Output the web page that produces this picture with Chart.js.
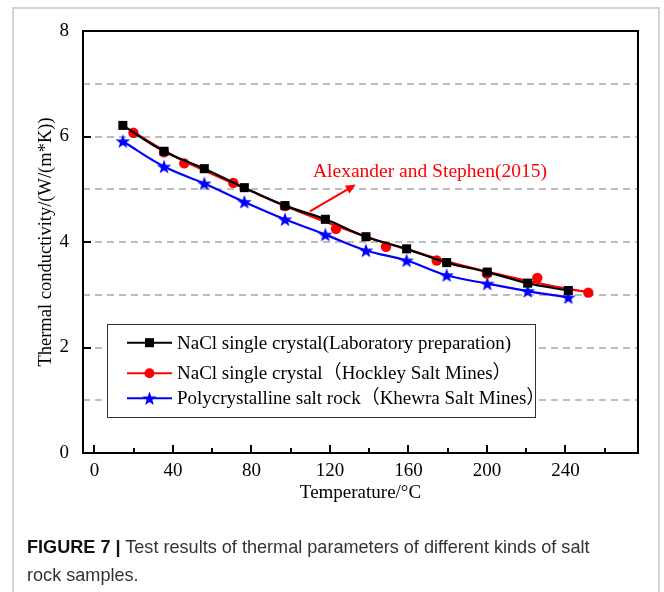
<!DOCTYPE html>
<html>
<head>
<meta charset="utf-8">
<script src="https://cdn.jsdelivr.net/npm/chart.js@4"></script>
<style>
  html, body { margin: 0; padding: 0; background: #fff; }
  #wrap { position: relative; width: 664px; height: 592px; overflow: hidden; background: #fff; }
  #frame { position: absolute; left: 12px; top: 7px; width: 648px; height: 600px; border: 2px solid #d4d4d4; box-sizing: border-box; }
  #c { position: absolute; left: 0; top: 0; }
  #caption { position: absolute; left: 27px; top: 533px; width: 620px; font-family: 'Liberation Sans', Arial, sans-serif; font-size: 18.1px; line-height: 28px; color: #333; }
  #caption b { color: #111; }
</style>
</head>
<body>
<div id="wrap">
  <div id="frame"></div>
  <canvas id="c" width="664" height="592"></canvas>
  <div id="caption"><b>FIGURE 7 |</b> Test results of thermal parameters of different kinds of salt<br>rock samples.</div>
</div>
<script>
// ---- data ----
const seriesNames = [
  'NaCl single crystal(Laboratory preparation)',
  'NaCl single crystal（Hockley Salt Mines）',
  'Polycrystalline salt rock（Khewra Salt Mines）'
];
const labX  = [14.5, 35.5, 56.0, 76.4, 97.1, 117.7, 138.4, 159.1, 179.5, 200.2, 220.8, 241.5];
const labY  = [6.21, 5.72, 5.39, 5.03, 4.69, 4.43, 4.10, 3.87, 3.61, 3.43, 3.22, 3.08];
const hockX = [19.9, 35.5, 45.8, 70.8, 97.1, 123.1, 148.6, 174.4, 200.0, 225.7, 251.7];
const hockY = [6.07, 5.70, 5.49, 5.12, 4.68, 4.25, 3.91, 3.65, 3.40, 3.32, 3.04];
const hockCurveX = [20, 40, 60, 80, 100, 120, 140, 160, 180, 200, 220, 240, 252];
const hockCurveY = [6.08, 5.64, 5.29, 4.96, 4.64, 4.35, 4.08, 3.85, 3.63, 3.44, 3.27, 3.12, 3.05];
const khewX = [14.5, 35.5, 56.0, 76.4, 97.1, 117.7, 138.4, 159.1, 179.5, 200.2, 220.8, 241.5];
const khewY = [5.91, 5.43, 5.11, 4.76, 4.43, 4.14, 3.84, 3.65, 3.37, 3.21, 3.07, 2.95];
const xMajorTicks = [0, 40, 80, 120, 160, 200, 240];
const xMinorTicks = [20, 60, 100, 140, 180, 220, 260];
const yMajorTicks = [0, 2, 4, 6, 8];
const annotationText = 'Alexander and Stephen(2015)';
const annotationAt = { x: 111.4, y: 5.32 };
const arrowFrom = { x: 109.8, y: 4.58 };
const arrowTo = { x: 133.2, y: 5.09 };

const pts = (xs, ys) => xs.map((x, i) => ({ x: x, y: ys[i] }));
const SERIF = "'Liberation Serif', 'Times New Roman', 'Noto Sans CJK SC', serif";

function drawStar(ctx, cx, cy, R, r) {
  ctx.beginPath();
  for (let i = 0; i < 10; i++) {
    const rad = i % 2 === 0 ? R : r;
    const a = -Math.PI / 2 + i * Math.PI / 5;
    const px = cx + rad * Math.cos(a), py = cy + rad * Math.sin(a);
    if (i === 0) ctx.moveTo(px, py); else ctx.lineTo(px, py);
  }
  ctx.closePath();
  ctx.fill();
}
const starImg = document.createElement('canvas');
starImg.width = 18; starImg.height = 18;
(function () { const g = starImg.getContext('2d'); g.fillStyle = '#0000ff'; drawStar(g, 9, 9.7, 7.6, 3.1); })();

const framePlugin = {
  id: 'framePlugin',
  afterDraw(chart) {
    const { ctx, chartArea: a, scales: { x, y } } = chart;
    ctx.save();
    // frame
    ctx.strokeStyle = '#000'; ctx.lineWidth = 2;
    ctx.strokeRect(a.left, a.top, a.right - a.left, a.bottom - a.top);
    // inward ticks
    ctx.lineWidth = 2;
    ctx.beginPath();
    xMajorTicks.forEach(v => { const px = Math.round(x.getPixelForValue(v)); ctx.moveTo(px, a.bottom); ctx.lineTo(px, a.bottom - 8); });
    xMinorTicks.forEach(v => { const px = Math.round(x.getPixelForValue(v)); ctx.moveTo(px, a.bottom); ctx.lineTo(px, a.bottom - 5); });
    yMajorTicks.forEach(v => { const py = Math.round(y.getPixelForValue(v)); ctx.moveTo(a.left, py); ctx.lineTo(a.left + 8, py); });
    ctx.stroke();

    // legend
    const L = 107, T = 324, R = 535, B = 417;
    ctx.fillStyle = '#fff';
    ctx.fillRect(L, T, R - L, B - T);
    ctx.strokeStyle = '#333'; ctx.lineWidth = 1;
    ctx.strokeRect(L + 0.5, T + 0.5, R - L, B - T);
    const rows = [342.7, 373.3, 398.3];
    const cols = ['#000000', '#ff0000', '#0000ff'];
    ctx.font = '19px ' + SERIF;
    ctx.textBaseline = 'middle';
    ctx.textAlign = 'left';
    rows.forEach((ry, i) => {
      ctx.strokeStyle = cols[i]; ctx.lineWidth = 2;
      ctx.beginPath(); ctx.moveTo(127, ry); ctx.lineTo(172, ry); ctx.stroke();
      ctx.fillStyle = cols[i];
      if (i === 0) ctx.fillRect(149.5 - 4.5, ry - 4.5, 9, 9);
      else if (i === 1) { ctx.beginPath(); ctx.arc(149.5, ry, 5, 0, Math.PI * 2); ctx.fill(); }
      else drawStar(ctx, 149.5, ry + 0.6, 7.4, 3);
      ctx.fillStyle = '#000';
      ctx.fillText(seriesNames[i], 177, ry + 1);
    });

    // annotation
    ctx.fillStyle = '#ff0000';
    ctx.font = '19.5px ' + SERIF;
    ctx.textBaseline = 'middle';
    ctx.fillText(annotationText, x.getPixelForValue(annotationAt.x), y.getPixelForValue(annotationAt.y));
    const x0 = x.getPixelForValue(arrowFrom.x), y0 = y.getPixelForValue(arrowFrom.y);
    const x1 = x.getPixelForValue(arrowTo.x), y1 = y.getPixelForValue(arrowTo.y);
    const ang = Math.atan2(y1 - y0, x1 - x0);
    ctx.strokeStyle = '#ff0000'; ctx.lineWidth = 2;
    ctx.beginPath(); ctx.moveTo(x0, y0); ctx.lineTo(x1 - 6 * Math.cos(ang), y1 - 6 * Math.sin(ang)); ctx.stroke();
    ctx.beginPath();
    ctx.moveTo(x1, y1);
    ctx.lineTo(x1 - 10 * Math.cos(ang) + 4.5 * Math.sin(ang), y1 - 10 * Math.sin(ang) - 4.5 * Math.cos(ang));
    ctx.lineTo(x1 - 10 * Math.cos(ang) - 4.5 * Math.sin(ang), y1 - 10 * Math.sin(ang) + 4.5 * Math.cos(ang));
    ctx.closePath(); ctx.fill();
    ctx.restore();
  }
};

new Chart(document.getElementById('c'), {
  type: 'scatter',
  data: {
    datasets: [
      { label: seriesNames[0], data: pts(labX, labY), showLine: true, tension: 0.4,
        borderColor: '#000', backgroundColor: '#000', borderWidth: 2.2,
        pointStyle: 'rect', pointRadius: 6.4, pointBorderWidth: 0 },
      { label: seriesNames[1], data: pts(hockX, hockY), showLine: false,
        borderColor: '#ff0000', backgroundColor: '#ff0000',
        pointStyle: 'circle', pointRadius: 5.2, pointBorderWidth: 0 },
      { label: 'fit', data: pts(hockCurveX, hockCurveY), showLine: true, tension: 0.4,
        borderColor: '#ff0000', borderWidth: 2.2, pointRadius: 0 },
      { label: seriesNames[2], data: pts(khewX, khewY), showLine: true, tension: 0.4,
        borderColor: '#0000ff', backgroundColor: '#0000ff', borderWidth: 2.2,
        pointStyle: starImg, pointRadius: 6 }
    ]
  },
  options: {
    responsive: false,
    animation: false,
    events: [],
    layout: { padding: { left: 0, right: 26, top: 31, bottom: 88 } },
    plugins: { legend: { display: false }, tooltip: { enabled: false } },
    scales: {
      x: {
        type: 'linear', min: -5.8, max: 277,
        afterBuildTicks: s => { s.ticks = xMajorTicks.map(v => ({ value: v })); },
        afterFit: s => { s.height = 51; },
        grid: { display: false, drawTicks: false },
        border: { display: false },
        ticks: { autoSkip: false, maxRotation: 0, padding: 7, color: '#000', font: { family: SERIF, size: 19 } },
        title: { display: true, text: 'Temperature/°C', color: '#000', padding: { top: 0, bottom: 0 }, font: { family: SERIF, size: 19 } }
      },
      y: {
        type: 'linear', min: 0, max: 8,
        ticks: { stepSize: 1, autoSkip: false, padding: 14, color: '#000', font: { family: SERIF, size: 19 },
                 callback: v => (v % 2 === 0 ? String(v) : '') },
        afterFit: s => { s.width = 83; },
        grid: { drawTicks: false, lineWidth: 2,
                color: c => (c.tick && (c.tick.value === 0 || c.tick.value === 8)) ? 'rgba(0,0,0,0)' : '#bdbdbd' },
        border: { display: false, dash: [7, 5] },
        title: { display: true, text: 'Thermal conductivity/(W/(m*K))', color: '#000', padding: { top: 35, bottom: 0 }, font: { family: SERIF, size: 18.5 } }
      }
    }
  },
  plugins: [framePlugin]
});
</script>
</body>
</html>
